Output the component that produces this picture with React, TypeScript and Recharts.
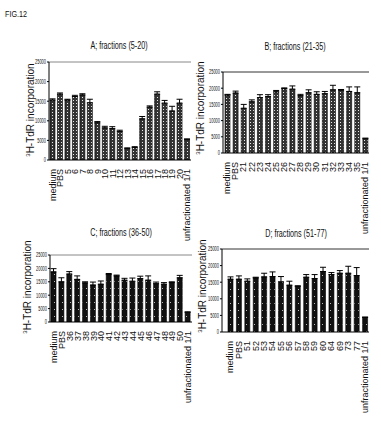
import React from "react";
import { BarChart, Bar, XAxis, YAxis, ErrorBar, ReferenceLine } from "recharts";

const SANS = '"Liberation Sans", Arial, sans-serif';

const Y_TICKS = [0, 5000, 10000, 15000, 20000, 25000];

// A; fractions (5-20)
const CATS_A = ["medium", "PBS", "5", "6", "7", "8", "9", "10", "11", "12", "13", "14", "15", "16", "17", "18", "19", "20", "unfractionated 1/1"];
const MEANS_A = [15300, 16800, 15300, 16200, 16600, 14600, 9500, 8200, 8000, 7300, 2900, 3200, 10500, 13500, 16800, 14500, 12500, 14500, 5200];
const ERRS_A = [300, 300, 200, 300, 300, 900, 300, 400, 500, 300, 200, 200, 600, 300, 600, 700, 1200, 1000, 200];

// B; fractions (21-35)
const CATS_B = ["medium", "PBS", "21", "22", "23", "24", "25", "26", "27", "28", "29", "30", "31", "32", "33", "34", "35", "unfractionated 1/1"];
const MEANS_B = [17900, 18500, 13800, 15800, 17100, 17400, 18900, 19900, 19700, 17700, 18600, 18100, 18300, 19500, 19400, 19000, 18600, 4400];
const ERRS_B = [200, 600, 1200, 600, 900, 600, 400, 200, 1000, 400, 900, 800, 700, 1400, 200, 1400, 1800, 200];

// C; fractions (36-50)
const CATS_C = ["medium", "PBS", "36", "37", "38", "39", "40", "41", "42", "43", "44", "45", "46", "47", "48", "49", "50", "unfractionated 1/1"];
const MEANS_C = [18700, 15000, 17900, 15900, 14600, 13800, 14100, 17700, 17200, 15600, 15200, 16200, 15600, 14300, 14100, 14700, 16500, 3600];
const ERRS_C = [1200, 1500, 900, 1300, 400, 1100, 1200, 400, 300, 700, 1200, 900, 1600, 600, 600, 300, 900, 200];

// D; fractions (51-77)
const CATS_D = ["medium", "PBS", "51", "52", "53", "54", "55", "56", "57", "58", "59", "60", "64", "69", "73", "77", "unfractionated 1/1"];
const MEANS_D = [15900, 15900, 15300, 16300, 16600, 16700, 15100, 14100, 13800, 16500, 16100, 18200, 17300, 17700, 17700, 17000, 4400];
const ERRS_D = [700, 1000, 700, 200, 1100, 1400, 1600, 1200, 100, 800, 1200, 1300, 600, 800, 2100, 2400, 100];

const rows = (cats: string[], means: number[], errs: number[]) =>
  cats.map((c, i) => ({ name: c, value: means[i], err: [0, errs[i]] }));

// eslint-disable-next-line @typescript-eslint/no-explicit-any
const XTick = ({ x, y, payload }: any) => (
  <text
    x={x}
    y={y}
    transform={`rotate(-90, ${x}, ${y})`}
    textAnchor="end"
    dy="0.35em"
    fontSize={9}
    fontFamily={SANS}
    fill="#111"
  >
    {payload.value}
  </text>
);

// tick numbers in the figure are very condensed
// eslint-disable-next-line @typescript-eslint/no-explicit-any
const YTick = ({ x, y, payload }: any) => {
  const s = String(payload.value);
  return (
    <text
      x={x}
      y={y}
      textAnchor="end"
      dy="0.35em"
      fontSize={7}
      fontFamily={SANS}
      fill="#111"
      textLength={s.length * 2.2}
      lengthAdjust="spacingAndGlyphs"
    >
      {s}
    </text>
  );
};

const YLabel = ({ x, y }: { x: number; y: number }) => (
  <div
    style={{
      position: "absolute",
      left: x,
      top: y,
      transform: "translate(-50%, -50%) rotate(-90deg)",
      whiteSpace: "nowrap",
      fontSize: 10,
      lineHeight: "11px",
      fontFamily: SANS,
      color: "#111",
    }}
  >
    <span style={{ fontSize: 6, verticalAlign: "4px" }}>3</span>H-TdR incorporation
  </div>
);

interface PanelProps {
  id: string;
  title: string;
  titleX: number;
  titleY: number;
  labelX: number;
  labelY: number;
  x0: number;
  y0: number;
  x1: number;
  y1: number;
  padLeft?: number;
  boxColor: string;
  dense: boolean;
  cats: string[];
  means: number[];
  errs: number[];
}

function Panel(p: PanelProps) {
  const yw = 22;
  const top = 5;
  const right = 4;
  const xh = 95;
  const width = p.x1 - p.x0 + yw + right;
  const height = p.y1 - p.y0 + top + xh;
  const data = rows(p.cats, p.means, p.errs);
  const pid = `dots${p.id}`;

  return (
    <>
      <div
        style={{
          position: "absolute",
          left: p.titleX,
          top: p.titleY,
          transform: "translate(-50%, -50%) scaleX(0.72)",
          whiteSpace: "nowrap",
          fontSize: 10,
          fontFamily: SANS,
          color: "#111",
        }}
      >
        {p.title}
      </div>
      <YLabel x={p.labelX} y={p.labelY} />
      <div style={{ position: "absolute", left: p.x0 - yw, top: p.y0 - top }}>
        <BarChart
          width={width}
          height={height}
          data={data}
          margin={{ top, right, left: 0, bottom: 0 }}
          barCategoryGap="30%"
        >
          <defs>
            {p.dense ? (
              <pattern id={pid} width="3" height="3" patternUnits="userSpaceOnUse">
                <rect width="3" height="3" fill="#333" />
                <rect x="1" y="1" width="1" height="1" fill="#e8e8e8" />
              </pattern>
            ) : (
              <pattern id={pid} width="4" height="7" patternUnits="userSpaceOnUse">
                <rect width="4" height="7" fill="#111" />
                <rect x="2" y="3" width="1" height="1" fill="#bbb" />
              </pattern>
            )}
          </defs>
          <XAxis
            dataKey="name"
            interval={0}
            height={xh}
            tick={<XTick />}
            tickLine={false}
            tickMargin={3}
            axisLine={{ stroke: "#000", strokeWidth: 1 }}
            padding={{ left: p.padLeft ?? 0, right: 0 }}
          />
          <YAxis
            domain={[0, 25000]}
            ticks={Y_TICKS}
            interval={0}
            width={yw}
            tickSize={2}
            tickMargin={1}
            tick={<YTick />}
            axisLine={{ stroke: "#000", strokeWidth: 1 }}
            tickLine={{ stroke: "#000" }}
            allowDataOverflow
          />
          <YAxis
            yAxisId="r"
            orientation="right"
            width={0}
            tick={false}
            tickLine={false}
            axisLine={{ stroke: p.boxColor, strokeWidth: 1 }}
          />
          <ReferenceLine y={25000} stroke={p.boxColor} strokeWidth={1} />
          <Bar
            dataKey="value"
            fill={`url(#${pid})`}
            stroke="#000"
            strokeWidth={0.6}
            barSize={5}
            isAnimationActive={false}
          >
            <ErrorBar dataKey="err" width={3} stroke="#000" strokeWidth={1} />
          </Bar>
        </BarChart>
      </div>
    </>
  );
}

export default function App() {
  return (
    <div
      style={{
        position: "absolute",
        left: 0,
        top: 0,
        width: 381,
        height: 423,
        background: "#fff",
        overflow: "hidden",
      }}
    >
      <div
        style={{
          position: "absolute",
          left: 5,
          top: 9,
          fontSize: 9,
          fontFamily: SANS,
          color: "#111",
          transform: "scaleX(0.8)",
          transformOrigin: "left center",
        }}
      >
        FIG.12
      </div>
      <Panel
        id="A"
        title="A; fractions (5-20)"
        titleX={119}
        titleY={45}
        labelX={29}
        labelY={110}
        x0={49}
        y0={62}
        x1={191}
        y1={160}
        boxColor="#888"
        dense
        cats={CATS_A}
        means={MEANS_A}
        errs={ERRS_A}
      />
      <Panel
        id="B"
        title="B; fractions (21-35)"
        titleX={295}
        titleY={46}
        labelX={199}
        labelY={108}
        x0={223}
        y0={72}
        x1={369}
        y1={153}
        boxColor="#333"
        dense
        cats={CATS_B}
        means={MEANS_B}
        errs={ERRS_B}
      />
      <Panel
        id="C"
        title="C; fractions (36-50)"
        titleX={121}
        titleY={232}
        labelX={26}
        labelY={287}
        x0={50}
        y0={255}
        x1={192}
        y1={322}
        boxColor="#888"
        dense={false}
        cats={CATS_C}
        means={MEANS_C}
        errs={ERRS_C}
      />
      <Panel
        id="D"
        title="D; fractions (51-77)"
        titleX={296}
        titleY={233}
        labelX={201}
        labelY={286}
        x0={222}
        y0={249}
        x1={369}
        y1={332}
        padLeft={4}
        boxColor="#333"
        dense={false}
        cats={CATS_D}
        means={MEANS_D}
        errs={ERRS_D}
      />
    </div>
  );
}
